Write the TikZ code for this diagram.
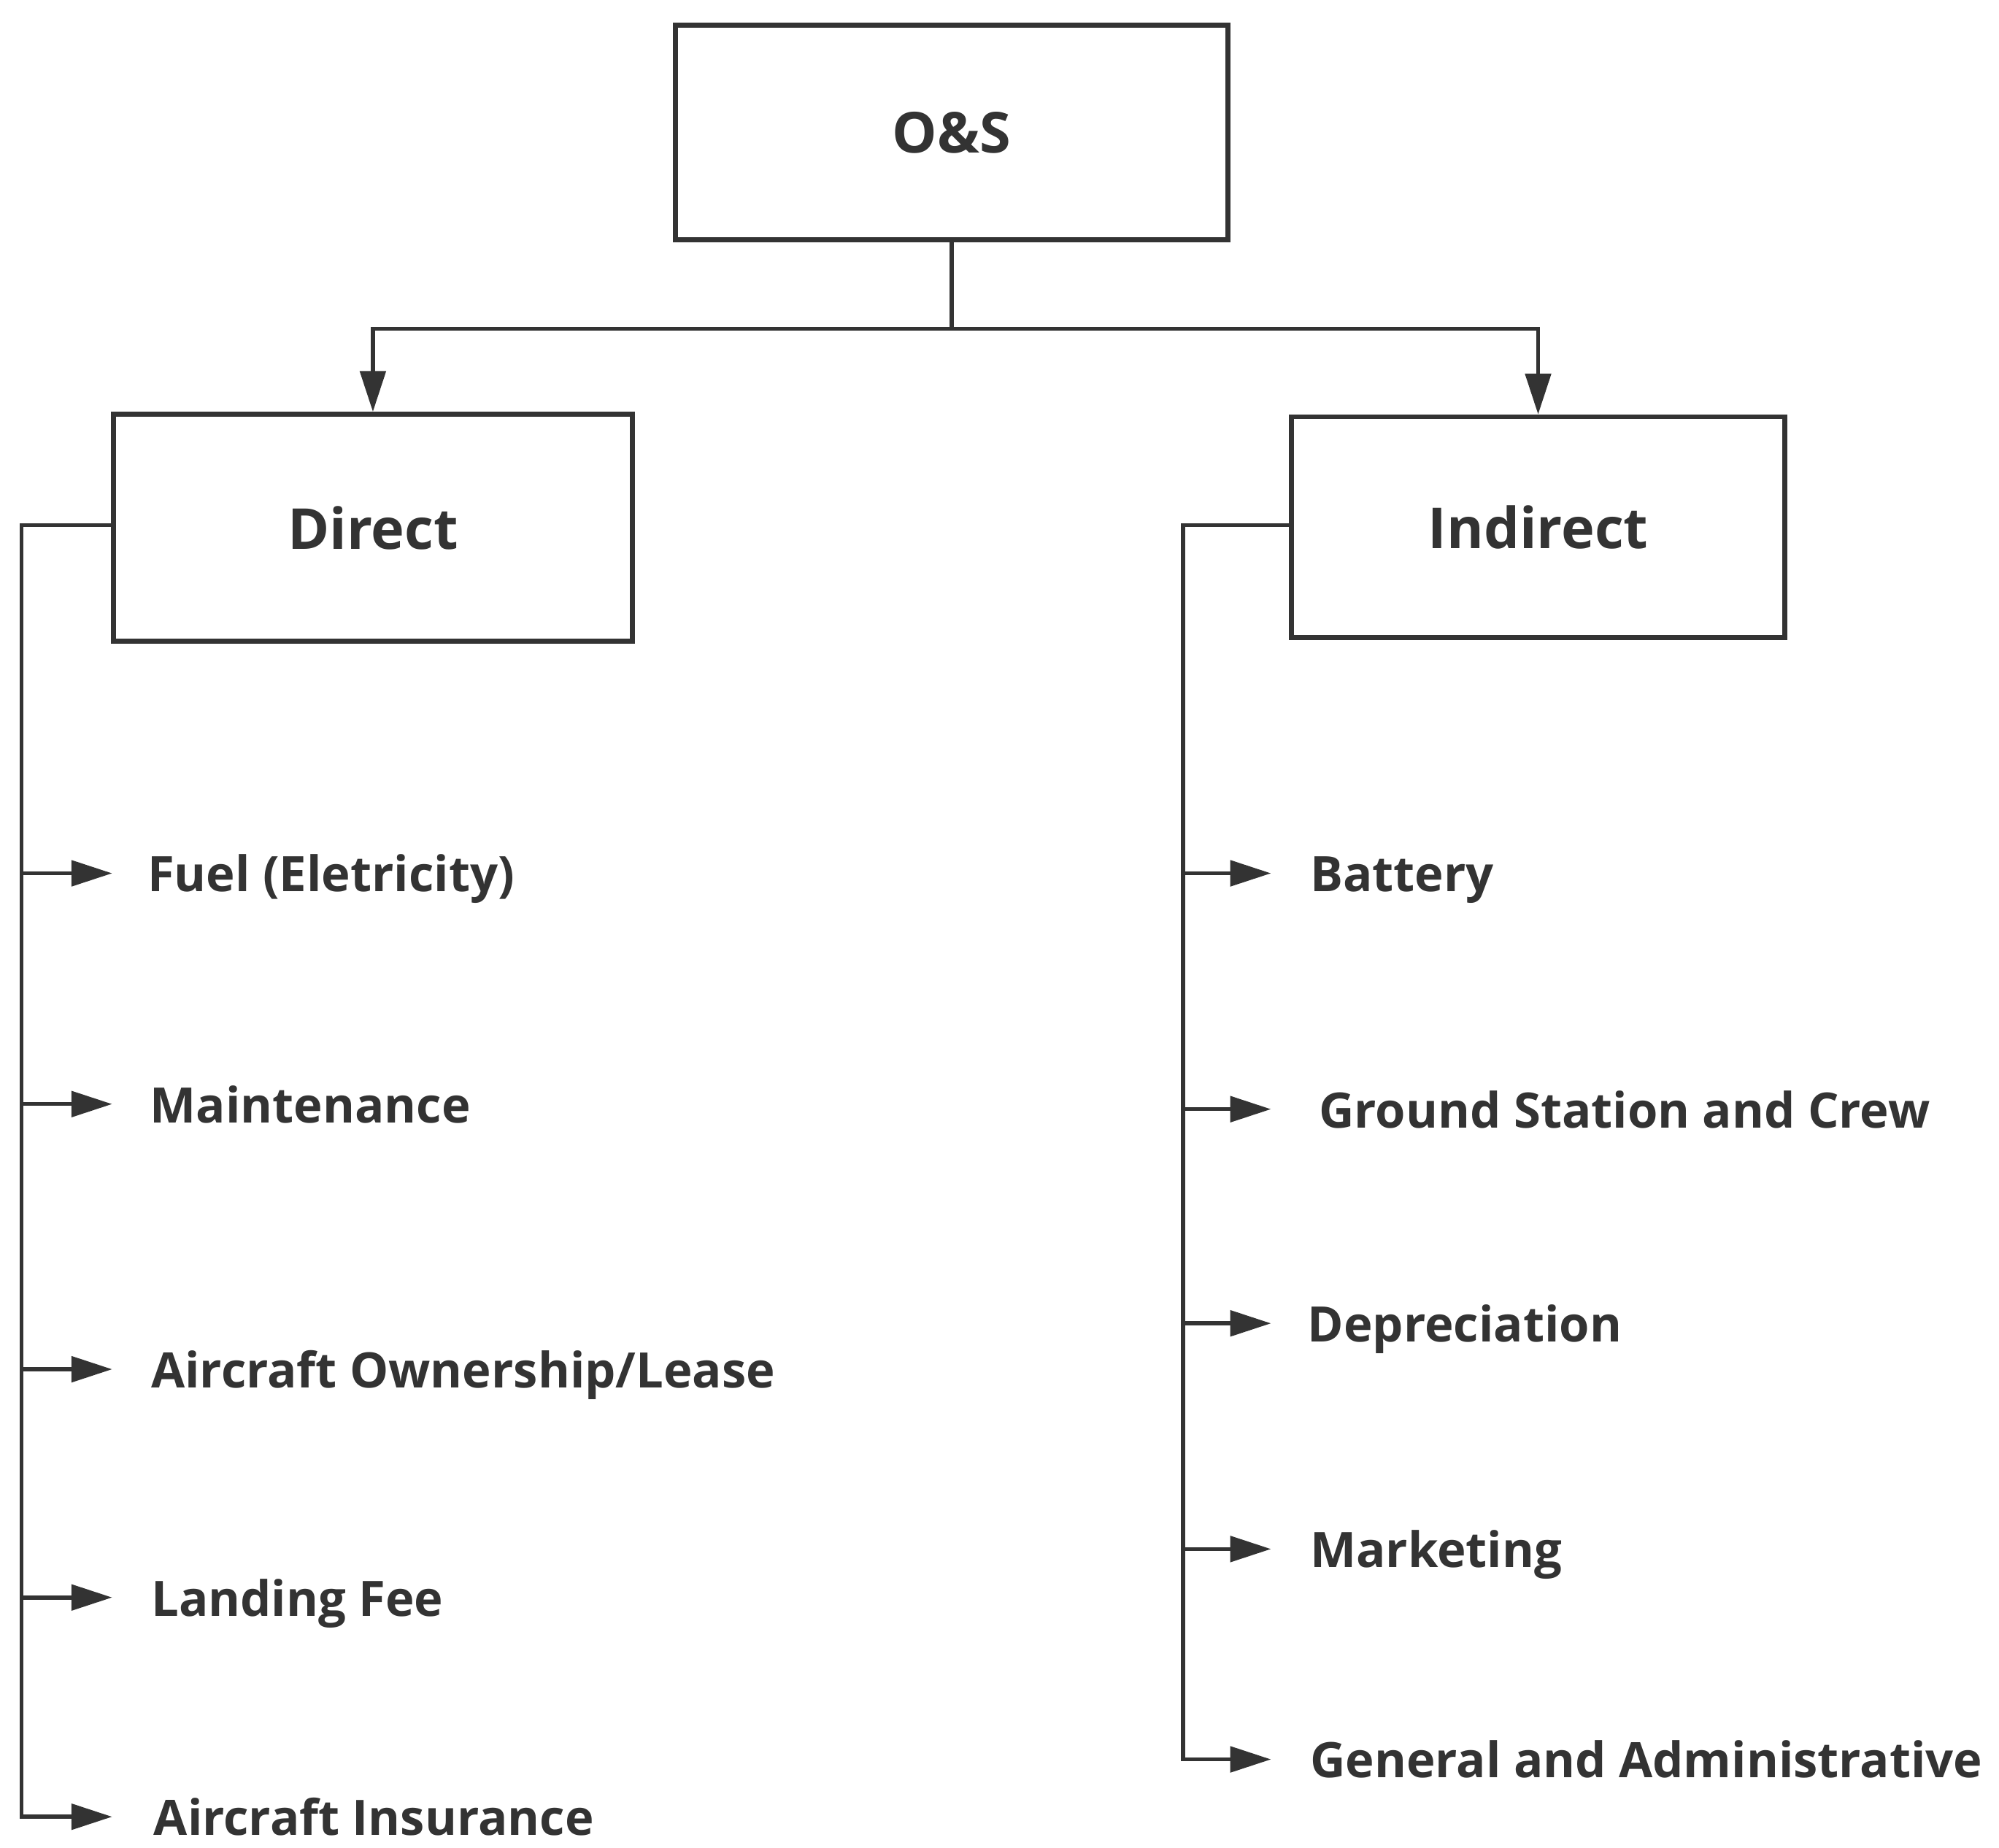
\documentclass[tikz,border=0pt]{standalone}
\usepackage{fontspec}
\setmainfont{Open Sans}
\usetikzlibrary{arrows.meta}
\definecolor{ink}{HTML}{333333}
\tikzset{
	line/.style={line width=0.9pt, color=ink},
	arr/.style={line, -{Triangle[length=0.32cm, width=0.2cm]}},
	head/.style={draw=ink, line width=1.1pt, text=ink, font=\fontsize{12.6}{15}\selectfont\bfseries, inner sep=0pt},
	item/.style={text=ink, font=\fontsize{10.9}{13}\selectfont\bfseries, inner sep=0pt, anchor=west, text height=0.29cm, text depth=0pt}
}

\begin{document}
\begin{tikzpicture}[x=0.01cm, y=-0.01cm]
		%%%%% START %%%%%
		\useasboundingbox (0, 0) rectangle (1568, 1449);
		
		\node[head, minimum width=4.33cm, minimum height=1.68cm] (os) at (746.5, 104) {O\&S};
		\node[head, minimum width=4.07cm, minimum height=1.78cm] (direct) at (292.5, 414) {Direct};
		\node[head, minimum width=3.87cm, minimum height=1.73cm] (indirect) at (1206.5, 413.5) {Indirect};
		
		\coordinate (split) at (746.5, 258);
		\draw[line] (os.south) -- (split);
		\draw[arr] (split) -| (direct.north);
		\draw[arr] (split) -| (indirect.north);
		
		%% direct costs
		\node[item] (fuel) at (115, 685) {Fuel (Eletricity)};
		\node[item] (maint) at (117, 866) {Maintenance};
		\node[item] (own) at (118, 1074) {Aircraft Ownership/Lease};
		\node[item] (land) at (118, 1253) {Landing Fee};
		\node[item] (insur) at (120, 1425) {Aircraft Insurance};
		
		\coordinate (dbus) at (17, 412);
		\draw[arr, shorten >=0.32cm] (direct.west |- dbus) -- (dbus) |- (insur.west);
		\foreach \n/\g in {fuel/0.27cm, maint/0.29cm, own/0.3cm, land/0.3cm}
			\draw[arr, shorten >=\g] (dbus |- \n.west) -- (\n.west);
		
		%% indirect costs
		\node[item] (batt) at (1027, 685) {Battery};
		\node[item] (ground) at (1034, 870) {Ground Station and Crew};
		\node[item] (depr) at (1025, 1038) {Depreciation};
		\node[item] (market) at (1027, 1215) {Marketing};
		\node[item] (admin) at (1027, 1380) {General and Administrative};
		
		\coordinate (ibus) at (928, 412);
		\draw[arr, shorten >=0.3cm] (indirect.west |- ibus) -- (ibus) |- (admin.west);
		\foreach \n/\g in {batt/0.3cm, ground/0.37cm, depr/0.28cm, market/0.3cm}
			\draw[arr, shorten >=\g] (ibus |- \n.west) -- (\n.west);
		%%%%% END %%%%%
	\end{tikzpicture}
\end{document}
